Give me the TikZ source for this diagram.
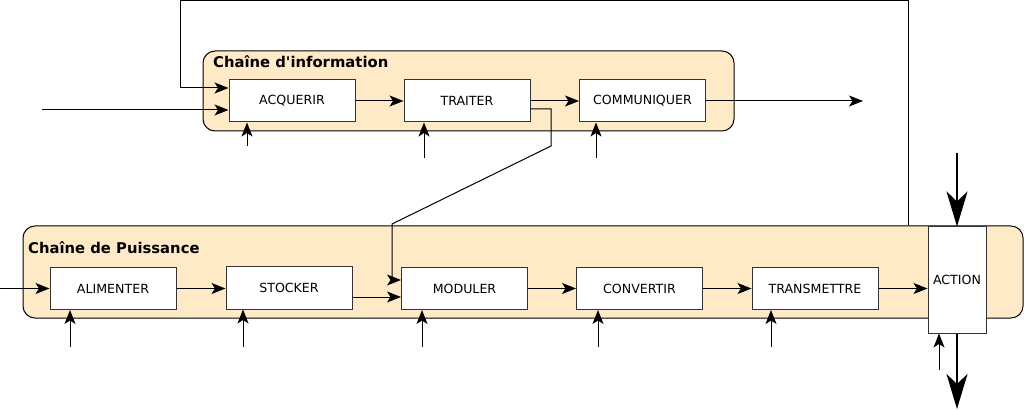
\documentclass[tikz,border=0pt]{standalone}
\usepackage{fontspec}
\setmainfont{DejaVu Sans}
\usetikzlibrary{arrows.meta}
\definecolor{chainfill}{RGB}{255,234,200}
\definecolor{boxline}{RGB}{51,51,51}
\begin{document}
\begin{tikzpicture}[x=1pt,y=-1pt,
  chain/.style={draw=black, fill=chainfill, rounded corners=12pt, line width=1pt, inner sep=0pt},
  fbox/.style={draw=boxline, fill=white, line width=1pt, minimum width=126pt, minimum height=42pt, inner sep=0pt, font=\fontsize{12.6}{14}\selectfont},
  arr/.style={line width=1pt, -{Stealth[length=14pt,width=11pt,inset=3.5pt]}},
  bigarr/.style={line width=2.5pt, -{Stealth[length=35pt,width=21pt,inset=10pt]}},
  title/.style={font=\fontsize{14.8}{16}\selectfont\bfseries, anchor=base west, inner sep=0pt}
]
\useasboundingbox (0,0) rectangle (1024,411);
% containers
\node[chain, minimum width=531pt, minimum height=80pt] (ci) at (468.5,91) {};
\node[chain, minimum width=1000pt, minimum height=92pt] (cp) at (523,272) {};
\node[title] (ti) at (213,68) {Chaîne d\textquotesingle information};
\node[title] (tp) at (28,254) {Chaîne de Puissance};
% coordinates
\coordinate (out1) at (863,101);
\coordinate (in1) at (42,110);
\coordinate (fbtop) at (908,1);
\coordinate (fbleft) at (180,1);
\coordinate (fbin) at (180,88);
\coordinate (v1) at (247,146);
\coordinate (v2) at (424,158);
\coordinate (v3) at (596,158);
\coordinate (p1) at (70,347);
\coordinate (p2) at (243,347);
\coordinate (p3) at (422,347);
\coordinate (p4) at (598,347);
\coordinate (p5) at (771,347);
\coordinate (p6) at (939,370);
\coordinate (tr1) at (551,109);
\coordinate (tr2) at (551,146);
\coordinate (tr3) at (392,224);
\coordinate (m1) at (392,280);
\coordinate (sm) at (370,297);
\coordinate (inA) at (0,288.5);
\coordinate (atop) at (957,153);
\coordinate (abot) at (957,409);
% boxes
\node[fbox] (acq) at (292,101) {ACQUERIR};
\node[fbox] (trait) at (467,101) {TRAITER};
\node[fbox] (comm) at (642.5,101) {COMMUNIQUER};
\node[fbox] (alim) at (113,288.5) {ALIMENTER};
\node[fbox] (stock) at (289,288) {STOCKER};
\node[fbox] (mod) at (464.5,288.5) {MODULER};
\node[fbox] (conv) at (639.5,288.5) {CONVERTIR};
\node[fbox] (trans) at (815,288.5) {TRANSMETTRE};
\node[fbox, minimum width=58pt, minimum height=106pt] (action) at (957,280) {ACTION};
% information chain connectors
\draw[arr] (acq) -- (trait);
\draw[arr] (trait) -- (comm);
\draw[arr] (comm) -- (out1);
\draw[arr] (in1) -- (in1 -| acq.west);
\draw[arr] (fbtop |- cp.north) -- (fbtop) -- (fbleft) -- (fbin) -- (fbin -| acq.west);
\draw[arr] (v1) -- (v1 |- acq.south);
\draw[arr] (v2) -- (v2 |- trait.south);
\draw[arr] (v3) -- (v3 |- comm.south);
\draw[arr] (tr1 -| trait.east) -- (tr1) -- (tr2) -- (tr3) -- (m1) -- (m1 -| mod.west);
% power chain connectors
\draw[arr] (inA) -- (alim);
\draw[arr] (alim) -- (alim -| stock.west);
\draw[arr] (sm -| stock.east) -- (sm -| mod.west);
\draw[arr] (mod) -- (conv);
\draw[arr] (conv) -- (trans);
\draw[arr] (trans.east) -- (trans.east -| action.west);
\draw[arr] (p1) -- (p1 |- alim.south);
\draw[arr] (p2) -- (p2 |- stock.south);
\draw[arr] (p3) -- (p3 |- mod.south);
\draw[arr] (p4) -- (p4 |- conv.south);
\draw[arr] (p5) -- (p5 |- trans.south);
\draw[arr] (p6) -- (p6 |- action.south);
\draw[bigarr] (atop) -- (action.north);
\draw[bigarr] (action.south) -- (abot);
\end{tikzpicture}
\end{document}
